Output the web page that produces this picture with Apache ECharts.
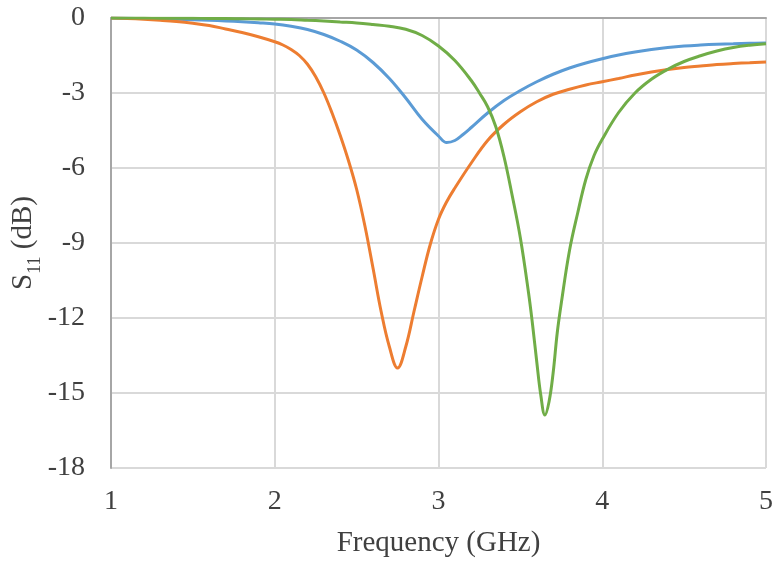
<!DOCTYPE html>
<html>
<head>
<meta charset="utf-8">
<script src="https://cdn.jsdelivr.net/npm/echarts@6/dist/echarts.min.js"></script>
<style>html,body{margin:0;padding:0;background:#fff;}#c{width:774px;height:563px;}</style>
</head>
<body>
<div id="c"></div>
<script>
// Series 1 (blue)
const blueX = [1.0, 1.1, 1.2, 1.3, 1.4, 1.5, 1.6, 1.7, 1.8, 1.9, 2.0, 2.1, 2.2, 2.3, 2.4, 2.5, 2.6, 2.7, 2.8, 2.9, 3.0, 3.05, 3.1, 3.15, 3.2, 3.3, 3.4, 3.5, 3.6, 3.7, 3.8, 3.9, 4.0, 4.1, 4.2, 4.3, 4.4, 4.5, 4.6, 4.7, 4.8, 4.9, 5.0];
const blueY = [0, -0.01, -0.02, -0.03, -0.05, -0.07, -0.09, -0.12, -0.15, -0.19, -0.24, -0.33, -0.46, -0.66, -0.93, -1.28, -1.78, -2.42, -3.2, -4.05, -4.72, -4.98, -4.9, -4.66, -4.38, -3.8, -3.3, -2.9, -2.55, -2.25, -2.0, -1.8, -1.63, -1.48, -1.36, -1.26, -1.18, -1.12, -1.08, -1.05, -1.03, -1.01, -1.0];
// Series 2 (orange)
const orangeX = [1.0, 1.1, 1.2, 1.3, 1.4, 1.5, 1.6, 1.7, 1.8, 1.9, 2.0, 2.05, 2.1, 2.15, 2.2, 2.25, 2.3, 2.35, 2.4, 2.45, 2.5, 2.55, 2.6, 2.65, 2.7, 2.75, 2.8, 2.85, 2.9, 2.95, 3.0, 3.05, 3.1, 3.2, 3.3, 3.4, 3.5, 3.6, 3.7, 3.8, 3.9, 4.0, 4.1, 4.2, 4.3, 4.4, 4.5, 4.6, 4.7, 4.8, 4.9, 5.0];
const orangeY = [0, -0.02, -0.05, -0.09, -0.14, -0.21, -0.3, -0.44, -0.58, -0.75, -0.95, -1.08, -1.26, -1.5, -1.85, -2.35, -3.0, -3.8, -4.7, -5.7, -6.85, -8.3, -10.0, -11.75, -13.15, -14.0, -13.15, -11.75, -10.35, -9.05, -8.05, -7.35, -6.8, -5.8, -4.9, -4.25, -3.75, -3.35, -3.05, -2.85, -2.68, -2.55, -2.42, -2.28, -2.16, -2.06, -1.98, -1.92, -1.86, -1.82, -1.79, -1.76];
// Series 3 (green)
const greenX = [1.0, 1.1, 1.2, 1.3, 1.4, 1.5, 1.6, 1.7, 1.8, 1.9, 2.0, 2.1, 2.2, 2.3, 2.4, 2.5, 2.6, 2.7, 2.8, 2.9, 3.0, 3.1, 3.2, 3.25, 3.3, 3.35, 3.4, 3.45, 3.5, 3.55, 3.575, 3.6, 3.625, 3.65, 3.675, 3.7, 3.725, 3.75, 3.8, 3.85, 3.9, 3.95, 4.0, 4.1, 4.2, 4.3, 4.4, 4.5, 4.6, 4.7, 4.8, 4.9, 5.0];
const greenY = [0, 0, 0, -0.01, -0.01, -0.01, -0.02, -0.02, -0.03, -0.04, -0.05, -0.06, -0.09, -0.12, -0.16, -0.2, -0.26, -0.33, -0.45, -0.7, -1.12, -1.7, -2.5, -3.0, -3.55, -4.35, -5.55, -7.1, -8.8, -11.0, -12.3, -13.75, -15.1, -15.88, -15.35, -14.2, -12.6, -11.4, -9.3, -7.8, -6.45, -5.5, -4.85, -3.78, -3.0, -2.45, -2.05, -1.74, -1.51, -1.32, -1.18, -1.09, -1.03];
// Axis ticks
const xTicks = [1, 2, 3, 4, 5];
const yTicks = [0, -3, -6, -9, -12, -15, -18];

const pair = (xs, ys) => xs.map((x, i) => [x, ys[i]]);
const font = '"Liberation Serif", "Times New Roman", serif';
const txt = '#404040';

const chart = echarts.init(document.getElementById('c'), null, {renderer: 'canvas'});
chart.setOption({
  animation: false,
  backgroundColor: '#ffffff',
  grid: {left: 111, right: 8, top: 18, bottom: 95, containLabel: false, outerBoundsMode: 'none'},
  xAxis: {
    type: 'value', min: xTicks[0], max: xTicks[xTicks.length - 1], interval: 1,
    name: 'Frequency (GHz)', nameLocation: 'middle', nameGap: 61, nameMoveOverlap: false,
    nameTextStyle: {fontFamily: font, fontSize: 29, color: txt},
    axisLine: {show: true, lineStyle: {color: '#a6a6a6', width: 2}},
    axisTick: {show: false},
    axisLabel: {fontFamily: font, fontSize: 28, color: txt, margin: 20},
    splitLine: {show: true, lineStyle: {color: '#d9d9d9', width: 2}}
  },
  yAxis: {
    type: 'value', min: yTicks[yTicks.length - 1], max: yTicks[0], interval: 3,
    name: '{s|S}{sub|11}{s| (dB)}', nameLocation: 'middle', nameGap: 67, nameMoveOverlap: false,
    nameTextStyle: {
      fontFamily: font, color: txt,
      rich: {
        s: {fontFamily: font, fontSize: 29, color: txt, lineHeight: 42},
        sub: {fontFamily: font, fontSize: 18, color: txt, lineHeight: 18, verticalAlign: 'bottom'}
      }
    },
    axisLine: {show: true, onZero: false, lineStyle: {color: '#a6a6a6', width: 2}},
    axisTick: {show: false},
    axisLabel: {fontFamily: font, fontSize: 28, color: txt, margin: 26},
    splitLine: {show: true, lineStyle: {color: '#d9d9d9', width: 2}}
  },
  series: [
    {type: 'line', data: pair(blueX, blueY), smooth: 0.4, showSymbol: false, lineStyle: {color: '#5b9bd5', width: 3}, itemStyle: {color: '#5b9bd5'}},
    {type: 'line', data: pair(orangeX, orangeY), smooth: 0.4, showSymbol: false, lineStyle: {color: '#ed7d31', width: 3}, itemStyle: {color: '#ed7d31'}},
    {type: 'line', data: pair(greenX, greenY), smooth: 0.4, showSymbol: false, lineStyle: {color: '#70ad47', width: 3}, itemStyle: {color: '#70ad47'}}
  ]
});
</script>
</body>
</html>
